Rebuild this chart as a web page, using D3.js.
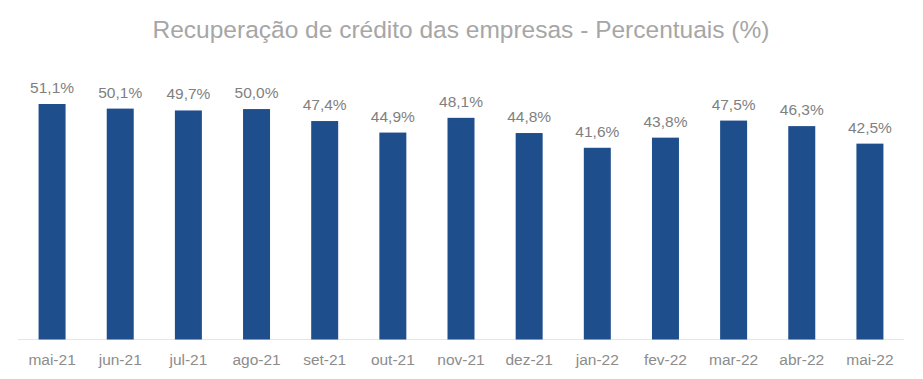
<!DOCTYPE html>
<html><head><meta charset="utf-8">
<script src="https://cdn.jsdelivr.net/npm/d3@7"></script>
<style>body{margin:0;background:#fff;} svg{display:block;font-family:"Liberation Sans",Arial,sans-serif;}</style>
</head><body>
<svg id="c" width="923" height="379"></svg>
<script>
const categories = ["mai-21","jun-21","jul-21","ago-21","set-21","out-21","nov-21","dez-21","jan-22","fev-22","mar-22","abr-22","mai-22"];
const values = [51.1,50.1,49.7,50.0,47.4,44.9,48.1,44.8,41.6,43.8,47.5,46.3,42.5];
const title = "Recuperação de crédito das empresas - Percentuais (%)";

const svg = d3.select("#c");
const x0 = 18, x1 = 904, yBase = 339.5;
const x = d3.scaleBand().domain(categories).range([x0, x1]).paddingInner(0.604).paddingOuter(0.302);
const y = d3.scaleLinear().domain([0, 51.1]).range([yBase, 104]);

svg.append("text").attr("x", 461).attr("y", 38).attr("text-anchor","middle")
  .attr("font-size", 24.5).attr("fill","#a6a6a6").text(title);

svg.append("line").attr("x1",x0).attr("x2",x1).attr("y1",yBase).attr("y2",yBase)
  .attr("stroke","#e6e6e6").attr("stroke-width",1);

svg.selectAll("rect.bar").data(values).join("rect").attr("class","bar")
  .attr("x",(d,i)=>x(categories[i])).attr("width",x.bandwidth())
  .attr("y",d=>y(d)).attr("height",d=>yBase-y(d)).attr("fill","#1f4e8c");

svg.selectAll("text.lbl").data(values).join("text").attr("class","lbl")
  .attr("x",(d,i)=>x(categories[i])+x.bandwidth()/2).attr("y",d=>y(d)-11)
  .attr("text-anchor","middle").attr("font-size",15.5).attr("fill","#7f7f7f")
  .text(d=>d.toFixed(1).replace(".",",")+"%");

const ax = d3.axisBottom(x).tickSize(0).tickPadding(0);
const g = svg.append("g").attr("transform",`translate(0,${yBase})`).call(ax);
g.select(".domain").remove();
g.selectAll("text").attr("font-size",15.5).attr("fill","#8c8c8c").attr("dy",null).attr("y",25)
  .attr("font-family",'"Liberation Sans",Arial,sans-serif');
</script>
</body></html>
